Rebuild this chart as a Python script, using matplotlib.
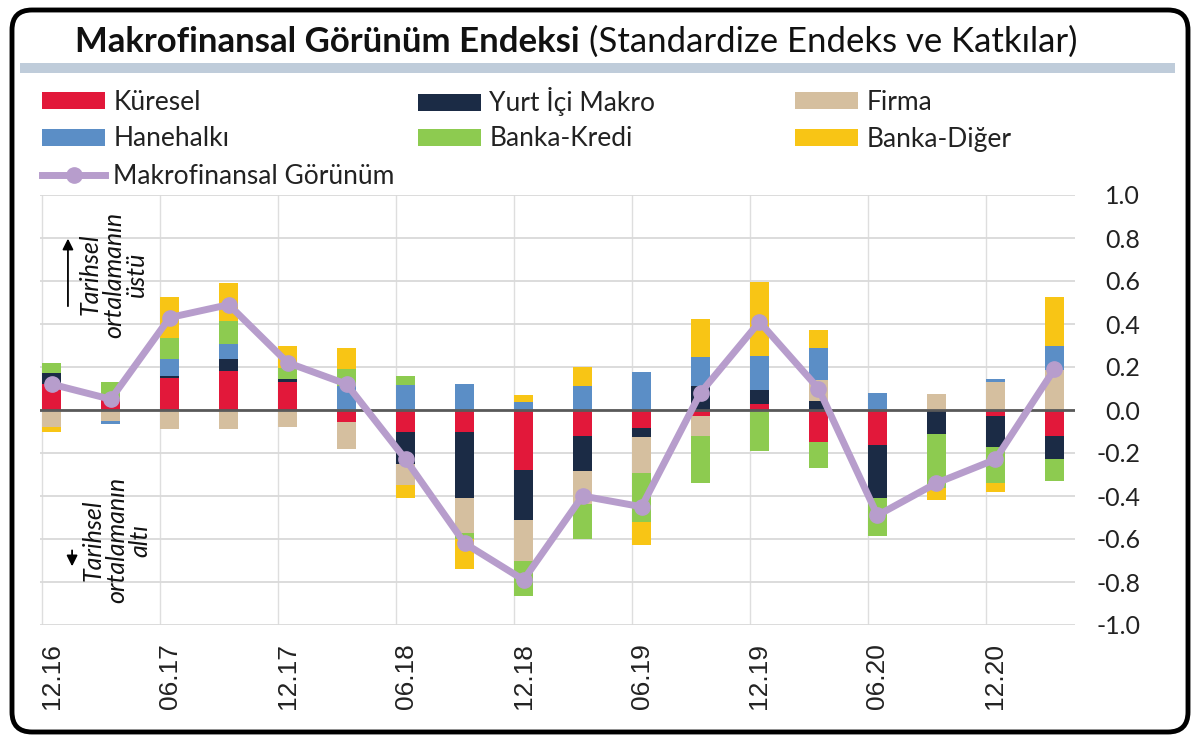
import numpy as np
import matplotlib
matplotlib.use('Agg')
import matplotlib.pyplot as plt
from matplotlib.patches import Patch, FancyBboxPatch, Rectangle
from matplotlib.lines import Line2D
from matplotlib.transforms import IdentityTransform

# ---- Data (quarterly contributions) ----
quarters = ['12.16', '03.17', '06.17', '09.17', '12.17', '03.18', '06.18', '09.18', '12.18',
            '03.19', '06.19', '09.19', '12.19', '03.20', '06.20', '09.20', '12.20', '03.21']
kuresel = [0.12, 0.05, 0.15, 0.18, 0.13, -0.055, -0.10, -0.10, -0.28,
           -0.12, -0.085, -0.03, 0.03, -0.15, -0.165, 0.0, -0.03, -0.12]
yurt_ici = [0.05, 0.0, 0.01, 0.055, 0.015, 0.0, -0.15, -0.31, -0.23,
            -0.165, -0.04, 0.11, 0.065, 0.04, -0.245, -0.11, -0.14, -0.11]
firma = [-0.08, -0.05, -0.09, -0.09, -0.08, -0.125, -0.10, -0.16, -0.19,
         -0.15, -0.17, -0.09, 0.0, 0.10, 0.0, 0.075, 0.13, 0.185]
hanehalki = [0.0, -0.015, 0.075, 0.07, 0.0, 0.11, 0.115, 0.12, 0.035,
             0.11, 0.175, 0.135, 0.155, 0.15, 0.08, 0.0, 0.015, 0.115]
banka_kredi = [0.05, 0.08, 0.10, 0.11, 0.05, 0.08, 0.045, -0.03, -0.165,
               -0.165, -0.225, -0.22, -0.19, -0.12, -0.175, -0.255, -0.17, -0.10]
banka_diger = [-0.02, 0.0, 0.19, 0.175, 0.105, 0.10, -0.06, -0.14, 0.035,
               0.09, -0.11, 0.18, 0.345, 0.08, 0.0, -0.055, -0.04, 0.225]
gorunum = [0.12, 0.05, 0.43, 0.49, 0.22, 0.12, -0.23, -0.62, -0.79,
           -0.40, -0.45, 0.08, 0.41, 0.10, -0.49, -0.34, -0.23, 0.19]
y_ticks = [-1.0, -0.8, -0.6, -0.4, -0.2, 0.0, 0.2, 0.4, 0.6, 0.8, 1.0]

series = [
    ('Küresel', kuresel, '#E2183A'),
    ('Yurt İçi Makro', yurt_ici, '#1B2B45'),
    ('Firma', firma, '#D5BF9F'),
    ('Hanehalkı', hanehalki, '#5B8EC6'),
    ('Banka-Kredi', banka_kredi, '#8DCB50'),
    ('Banka-Diğer', banka_diger, '#F8C515'),
]
line_color = '#B79DCC'

plt.rcParams['font.family'] = ['Lato', 'DejaVu Sans']

fig = plt.figure(figsize=(12, 7.46), dpi=100)
fig.patch.set_facecolor('white')
ax = fig.add_axes([40 / 1200, 1 - 625 / 746, 1035 / 1200, 430 / 746])

x = np.arange(len(quarters))
bar_w = 0.32
pos_base = np.zeros(len(quarters))
neg_base = np.zeros(len(quarters))
for name, vals, color in series:
    v = np.array(vals)
    bottom = np.where(v >= 0, pos_base, neg_base)
    ax.bar(x, v, width=bar_w, bottom=bottom, color=color, linewidth=0, zorder=2)
    pos_base += np.where(v >= 0, v, 0)
    neg_base += np.where(v < 0, v, 0)

ax.axhline(0, color='#595959', lw=2, zorder=3)
ax.plot(x, gorunum, color=line_color, lw=5, marker='o', markersize=11,
        solid_capstyle='round', zorder=4)

# axes styling
ax.set_xlim(-0.2, 17.35)
ax.set_ylim(-1.0, 1.0)
ax.set_yticks(y_ticks)
ax.yaxis.tick_right()
ax.set_yticklabels([f'{t:.1f}' for t in y_ticks])
for lbl in ax.get_yticklabels():
    lbl.set_horizontalalignment('right')
ax.tick_params(axis='y', length=0, pad=47, labelsize=18, labelcolor='#222222')

ax.set_xticks(x[::2])
ax.set_xticklabels(quarters[::2], rotation=90, fontfamily='Liberation Sans')
ax.tick_params(axis='x', length=0, pad=13, labelsize=19, labelcolor='#222222')
ax.set_xticks(x[::2] - bar_w / 2, minor=True)
ax.tick_params(axis='x', which='minor', length=0)
ax.grid(axis='y', color='#D9D9D9', lw=1.3, zorder=0)
ax.grid(axis='x', which='minor', color='#DEDEDE', lw=1.0, zorder=0)
for s in ax.spines.values():
    s.set_visible(False)

# side notes
note_kw = dict(transform=ax.transAxes, rotation=90, ha='center', va='center',
               fontsize=18, style='italic', multialignment='center',
               linespacing=1.0, color='#111111')
ax.text(0.071, 0.815, 'Tarihsel\nortalamanın\nüstü', **note_kw)
ax.text(0.074, 0.197, 'Tarihsel\nortalamanın\naltı', **note_kw)
ax.annotate('', xy=(0.027, 0.905), xytext=(0.027, 0.735), xycoords='axes fraction',
            arrowprops=dict(arrowstyle='-|>', color='black', lw=1.3, mutation_scale=16))
ax.annotate('', xy=(0.031, 0.13), xytext=(0.031, 0.18), xycoords='axes fraction',
            arrowprops=dict(arrowstyle='-|>', color='black', lw=1.3, mutation_scale=16))

# legend: one entry per slot so the three columns line up as in the original
handles = {name: Patch(facecolor=color, edgecolor='none') for name, _, color in series}
handles['Makrofinansal Görünüm'] = Line2D([], [], color=line_color, lw=5, marker='o', markersize=11)
legend_slots = [
    ('Küresel', 42, 102), ('Yurt İçi Makro', 418, 102), ('Firma', 795, 102),
    ('Hanehalkı', 42, 139), ('Banka-Kredi', 418, 139), ('Banka-Diğer', 795, 139),
    ('Makrofinansal Görünüm', 42, 176),
]
for name, xpix, ypix in legend_slots:
    fig.legend([handles[name]], [name], loc='center left',
               bbox_to_anchor=(xpix / 1200, 1 - ypix / 746), frameon=False,
               fontsize=19, handlelength=2.4, handleheight=0.6, handletextpad=0.3,
               borderpad=0, borderaxespad=0, labelcolor='#222222')

# title
t1 = fig.text(75 / 1200, 1 - 42 / 746, 'Makrofinansal Görünüm Endeksi', fontsize=25,
              fontweight='bold', va='center', ha='left', color='#111111')
fig.canvas.draw()
bb = t1.get_window_extent(fig.canvas.get_renderer())
fig.text((bb.x1 + 9) / 1200, 1 - 42 / 746, '(Standardize Endeks ve Katkılar)', fontsize=25,
         va='center', ha='left', color='#111111')

# header band and frame
fig.add_artist(Rectangle((20 / 1200, 1 - 73 / 746), 1155 / 1200, 10 / 746,
                         transform=fig.transFigure, facecolor='#BFCCDA', edgecolor='none'))
fig.add_artist(FancyBboxPatch((12, 14), 1176, 722, boxstyle='round,pad=0,rounding_size=20',
                              transform=IdentityTransform(), facecolor='none',
                              edgecolor='black', lw=3.5))

fig.savefig('out.png', dpi=100)
